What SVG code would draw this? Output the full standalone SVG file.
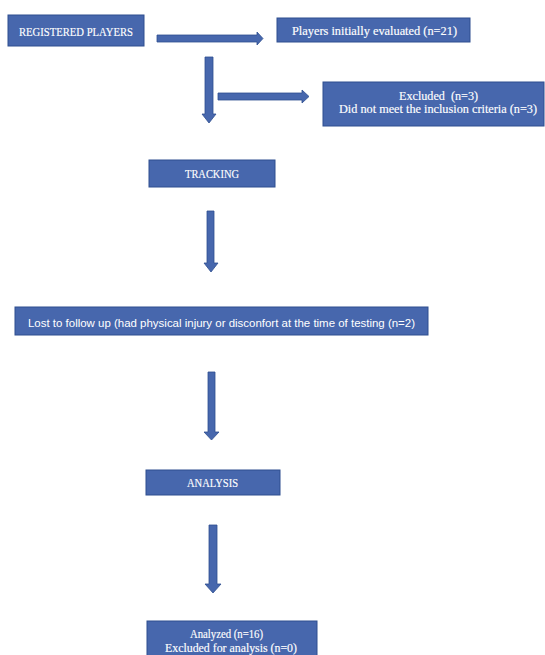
<svg xmlns="http://www.w3.org/2000/svg" width="545" height="655" viewBox="0 0 545 655">
<style>
.box{fill:#4767ad;stroke:#2f4f8f;stroke-width:1}
.arr{fill:#4767ad;stroke:#2f4f8f;stroke-width:0.8}
.t{fill:#ffffff;font-family:"Liberation Serif","DejaVu Serif",serif;font-size:11.5px;stroke:#ffffff;stroke-width:0.15}
.s{fill:#ffffff;font-family:"Liberation Sans","Noto Sans",sans-serif;font-size:11px}
</style>
<rect width="545" height="655" fill="#ffffff"/>
<g id="connectors">
<polygon class="arr" points="157,35 257,35 257,32 263,38.5 257,45 257,42 157,42"/>
<polygon class="arr" points="205,57 213,57 213,114 216,114 209,123 202,114 205,114"/>
<polygon class="arr" points="218,93 302,93 302,90 309,96.5 302,103 302,100 218,100"/>
<polygon class="arr" points="207,211 214,211 214,263 218,263 211,272 204,263 207,263"/>
<polygon class="arr" points="208,372 215,372 215,432 219,432 211.5,440 204,432 208,432"/>
<polygon class="arr" points="209,525 217,525 217,584 221,584 213,593 205,584 209,584"/>
</g>
<g id="registered">
<rect class="box" x="8" y="15" width="136" height="31"/>
<text class="t" x="19" y="36" textLength="114" lengthAdjust="spacingAndGlyphs">REGISTERED PLAYERS</text>
</g>
<g id="evaluated">
<rect class="box" x="277" y="18" width="193" height="24"/>
<text class="t" x="292" y="35" textLength="165" lengthAdjust="spacingAndGlyphs">Players initially evaluated (n=21)</text>
</g>
<g id="excluded">
<rect class="box" x="323" y="82" width="221" height="44"/>
<text class="t" x="399" y="99.5" textLength="79" lengthAdjust="spacingAndGlyphs" xml:space="preserve">Excluded  (n=3)</text>
<text class="t" x="339" y="112.5" textLength="198" lengthAdjust="spacingAndGlyphs">Did not meet the inclusion criteria (n=3)</text>
</g>
<g id="tracking">
<rect class="box" x="149" y="160" width="126" height="27"/>
<text class="t" x="185" y="178" textLength="54" lengthAdjust="spacingAndGlyphs">TRACKING</text>
</g>
<g id="lost">
<rect class="box" x="15" y="307" width="413" height="28"/>
<text class="s" x="28" y="326.5" textLength="387" lengthAdjust="spacingAndGlyphs">Lost to follow up (had physical injury or disconfort at the time of testing (n=2)</text>
</g>
<g id="analysis">
<rect class="box" x="146" y="470" width="134" height="25"/>
<text class="t" x="187" y="486.5" textLength="51" lengthAdjust="spacingAndGlyphs">ANALYSIS</text>
</g>
<g id="analyzed">
<rect class="box" x="147" y="621" width="170" height="40"/>
<text class="t" x="190" y="638" textLength="73" lengthAdjust="spacingAndGlyphs">Analyzed (n=16)</text>
<text class="t" x="165" y="652" textLength="132" lengthAdjust="spacingAndGlyphs">Excluded for analysis (n=0)</text>
</g>
</svg>
